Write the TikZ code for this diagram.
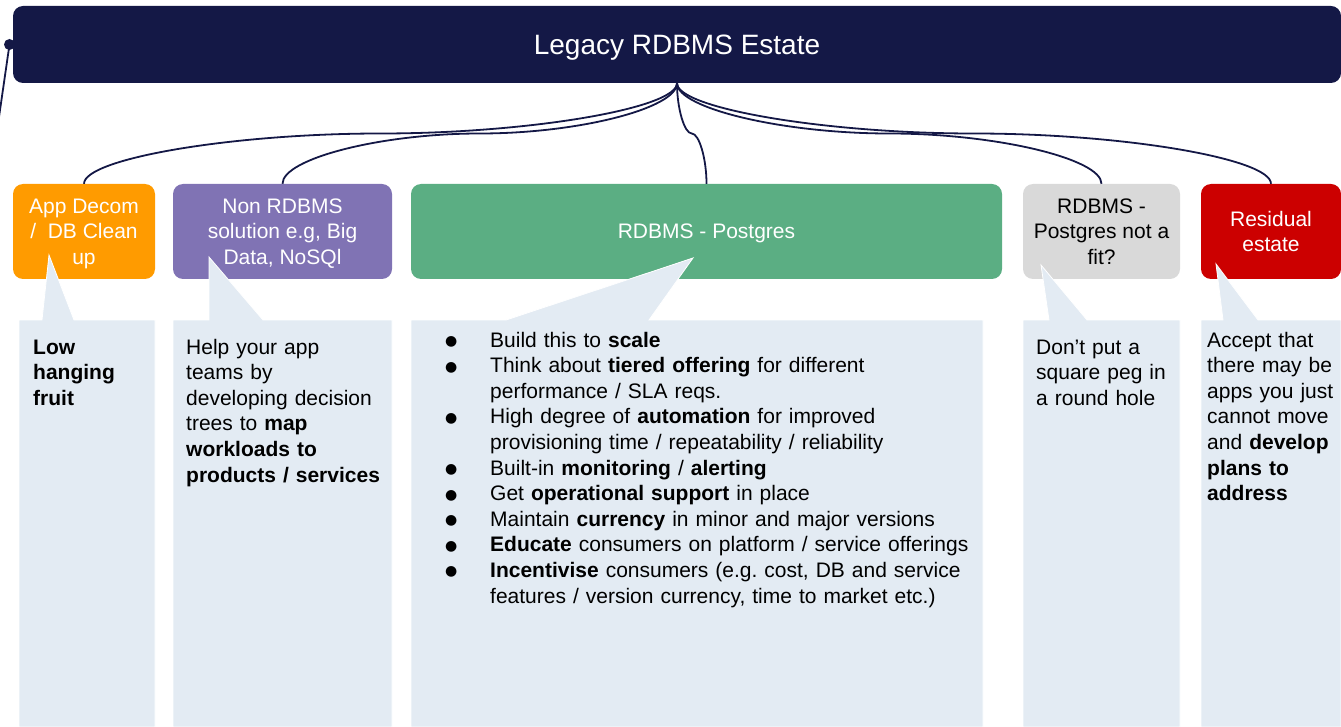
\documentclass[tikz,border=0pt]{standalone}
\usepackage{fontspec}
\setmainfont{Liberation Sans}
\newfontfamily\bulletfont{DejaVu Sans}
\usetikzlibrary{calc}
\frenchspacing
\definecolor{navy}{RGB}{20,24,70}
\definecolor{orangeC}{RGB}{255,155,0}
\definecolor{purpleC}{RGB}{128,115,180}
\definecolor{greenC}{RGB}{91,174,131}
\definecolor{grayC}{RGB}{217,217,217}
\definecolor{redC}{RGB}{204,0,0}
\definecolor{calloutbg}{RGB}{227,235,243}
\tikzset{
  conn/.style={draw=navy, line width=1.8pt},
  catbox/.style={rounded corners=10pt, inner sep=0pt, align=center, text=white,
    minimum height=95pt, text depth=0pt, font=\fontsize{21}{25.5}\selectfont},
  calloutshape/.style={fill=calloutbg, draw=white, line width=0.8pt},
  bodytext/.style={anchor=base west, inner sep=0pt, align=left, text width=#1,
    font=\fontsize{21}{25.6}\selectfont},
  bodytext/.default=200pt,
}
\newcommand\curveconn[2]{%
  \draw[conn] let \p1=(#1), \p2=(#2) in
    (\p1) .. controls (\x1,{\y1+0.25*(\y2-\y1)}) and ({\x1+0.25*(\x2-\x1)},{0.5*(\y1+\y2)}) ..
    ({0.5*(\x1+\x2)},{0.5*(\y1+\y2)}) .. controls ({\x1+0.75*(\x2-\x1)},{0.5*(\y1+\y2)}) and (\x2,{\y1+0.75*(\y2-\y1)}) ..
    (\p2);}
\newcommand\bmark{\makebox[45pt][l]{\raisebox{1.5pt}{\bulletfont\fontsize{14}{14}\selectfont ●}}}
\newcommand\bfirst[1]{\noindent\bmark#1}
\newcommand\bitem[1]{\par\noindent\bmark#1}
\newcommand\bcont[1]{\par\noindent\hspace*{45pt}#1}
\begin{document}
\begin{tikzpicture}[x=1pt,y=-1pt]
\useasboundingbox (0,0) rectangle (1341,727);
% title bar
\node[fill=navy, rounded corners=10pt, minimum width=1328pt, minimum height=77pt, inner sep=0pt,
  text depth=0pt, text=white, font=\fontsize{28}{34}\selectfont] (title) at (677,44.5) {Legacy RDBMS Estate};
\node[circle, fill=navy, minimum size=11pt, inner sep=0pt] (dot) at (9.5,44.5) {};
\coordinate (dotend) at (-1,117);
\draw[conn] (dot.center) -- (dotend);
% category boxes
\node[catbox, fill=orangeC, minimum width=142pt] (app) at (84,231.5) {App Decom\\ /\ \ DB Clean\\ up};
\node[catbox, fill=purpleC, minimum width=219pt] (non) at (282.5,231.5) {Non RDBMS\\solution e.g, Big\\Data, NoSQl};
\node[catbox, fill=greenC, minimum width=591pt] (pg) at (706.5,231.5) {RDBMS - Postgres};
\node[catbox, fill=grayC, minimum width=157pt, text=black] (nofit) at (1101.5,231.5) {RDBMS -\\Postgres not a\\fit?};
\node[catbox, fill=redC, minimum width=140pt] (resid) at (1271,231.5) {Residual\\estate};
% connectors
\curveconn{title.south}{app.north}
\curveconn{title.south}{non.north}
\curveconn{title.south}{pg.north}
\curveconn{title.south}{nofit.north}
\curveconn{title.south}{resid.north}
% callouts
\path[calloutshape] (19,320) -- (42,320) -- (49,255) -- (74,320) -- (155,320) -- (155,727) -- (19,727) -- cycle;
\path[calloutshape] (173,320) -- (209,320) -- (209,257) -- (263,320) -- (392,320) -- (392,727) -- (173,727) -- cycle;
\path[calloutshape] (411,320) -- (506,320) -- (693,258) -- (649,320) -- (983,320) -- (983,727) -- (411,727) -- cycle;
\path[calloutshape] (1023,320) -- (1049,320) -- (1041,265) -- (1087,320) -- (1180,320) -- (1180,727) -- (1023,727) -- cycle;
\path[calloutshape] (1201,320) -- (1223,320) -- (1216,264) -- (1258,320) -- (1341,320) -- (1341,727) -- (1201,727) -- cycle;
% callout texts
\node[bodytext=130pt] (apptext) at (33,354) {\textbf{Low}\\\textbf{hanging}\\\textbf{fruit}};
\node[bodytext] (nontext) at (186,354) {Help your app\\teams by\\developing decision\\trees to \textbf{map}\\\textbf{workloads to}\\\textbf{products / services}};
\node[bodytext=560pt] (pgtext) at (445,347) {%
\bfirst{Build this to \textbf{scale}}%
\bitem{Think about \textbf{tiered offering} for different}%
\bcont{performance / SLA reqs.}%
\bitem{High degree of \textbf{automation} for improved}%
\bcont{provisioning time / repeatability / reliability}%
\bitem{Built-in \textbf{monitoring} / \textbf{alerting}}%
\bitem{Get \textbf{operational support} in place}%
\bitem{Maintain \textbf{currency} in minor and major versions}%
\bitem{\textbf{Educate} consumers on platform / service offerings}%
\bitem{\textbf{Incentivise} consumers (e.g. cost, DB and service}%
\bcont{features / version currency, time to market etc.)}};
\node[bodytext] (nofittext) at (1036,354) {Don’t put a\\square peg in\\a round hole};
\node[bodytext] (residtext) at (1207,347) {Accept that\\there may be\\apps you just\\cannot move\\and \textbf{develop}\\\textbf{plans to}\\\textbf{address}};
\end{tikzpicture}
\end{document}
